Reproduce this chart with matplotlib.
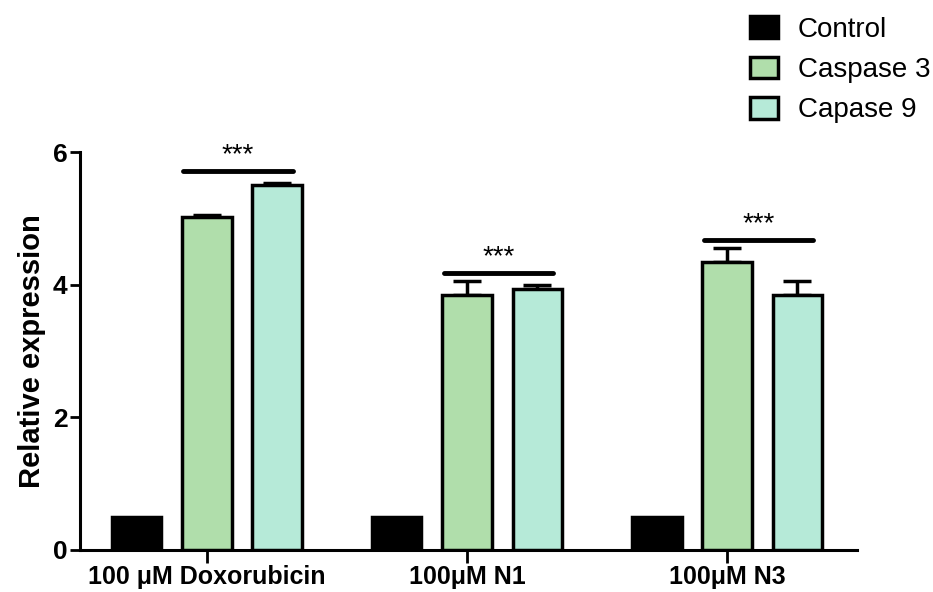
import numpy as np
import matplotlib.pyplot as plt

plt.rcParams['font.family'] = ['Liberation Sans', 'DejaVu Sans']

# Data
groups = ['100 \u03bcM Doxorubicin', '100\u03bcM N1', '100\u03bcM N3']
series = ['Control', 'Caspase 3', 'Capase 9']
control = [0.5, 0.5, 0.5]
caspase3 = [5.02, 3.85, 4.35]
capase9 = [5.50, 3.94, 3.85]
control_err = [0.0, 0.0, 0.0]
caspase3_err = [0.03, 0.20, 0.20]
capase9_err = [0.03, 0.06, 0.20]
sig_heights = [5.72, 4.18, 4.67]
sig_labels = ['***', '***', '***']

colors = ['#000000', '#b0deab', '#b6ead8']

fig = plt.figure(figsize=(9.33, 5.92), dpi=100)
ax = fig.add_axes([0.0857, 0.071, 0.833, 0.672])

x = np.arange(len(groups))
offset = 0.27
width = 0.19
values = [control, caspase3, capase9]
errors = [control_err, caspase3_err, capase9_err]

for i, (vals, errs, col, name) in enumerate(zip(values, errors, colors, series)):
    pos = x + (i - 1) * offset
    ax.bar(pos, vals, width=width, color=col, edgecolor='black', linewidth=2.5,
           label=name, zorder=3)
    if i > 0:
        ax.errorbar(pos, vals, yerr=[np.zeros(len(errs)), errs], fmt='none',
                    ecolor='black', elinewidth=2.5, capsize=10, capthick=2.5, zorder=2)

# significance bars
for xi, h, lab in zip(x, sig_heights, sig_labels):
    ax.plot([xi - 0.09, xi + 0.33], [h, h],
            color='black', lw=3.5, solid_capstyle='round', clip_on=False)
    ax.text(xi + 0.12, h + 0.04, lab, ha='center', va='bottom', fontsize=20,
            clip_on=False)

ax.set_xlim(-0.488, 2.5)
ax.set_ylim(0, 6)
ax.set_yticks([0, 2, 4, 6])
ax.set_xticks(x)
ax.set_xticklabels(groups, fontsize=18, fontweight='bold')
ax.set_ylabel('Relative expression', fontsize=21, fontweight='bold', labelpad=5)
for lab in ax.get_yticklabels():
    lab.set_fontsize(19)
    lab.set_fontweight('bold')

for s in ['top', 'right']:
    ax.spines[s].set_visible(False)
for s in ['left', 'bottom']:
    ax.spines[s].set_linewidth(2.2)
ax.tick_params(axis='y', width=2, length=7, pad=2)
ax.tick_params(axis='x', width=2, length=9, pad=2)

fig.legend(loc='upper right', bbox_to_anchor=(1.024, 1.015), frameon=False,
           fontsize=20, handlelength=1.0, handleheight=0.83, labelspacing=0.5,
           handletextpad=0.72)

plt.savefig('out.png', dpi=100, facecolor='white')
